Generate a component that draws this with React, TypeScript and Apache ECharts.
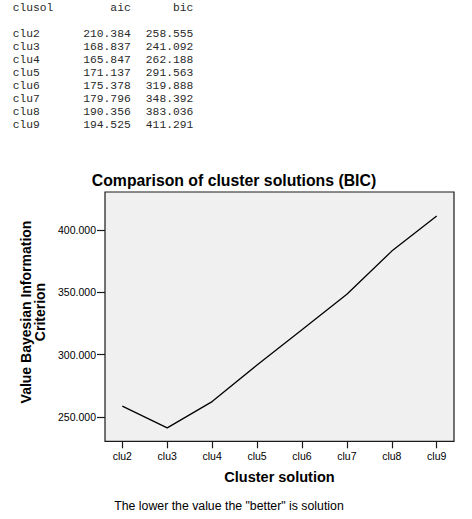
import React, { useEffect, useRef } from "react";
import * as echarts from "echarts";

// Cluster solutions with their information criteria
const clusters = ["clu2", "clu3", "clu4", "clu5", "clu6", "clu7", "clu8", "clu9"];
const aicValues = [210.384, 168.837, 165.847, 171.137, 175.378, 179.796, 190.356, 194.525];
const bicValues = [258.555, 241.092, 262.188, 291.563, 319.888, 348.392, 383.036, 411.291];
const yTickValues = [250, 300, 350, 400];

const MONO = "'Liberation Mono', 'DejaVu Sans Mono', monospace";
const SANS = "'Liberation Sans', Arial, sans-serif";

// plot frame (the shaded box) and inner data area
const BOX = { left: 105, top: 192, right: 454, bottom: 441.3 };
const INSET = 17.3;

export default function App() {
  const ref = useRef<HTMLDivElement>(null);

  useEffect(() => {
    if (!ref.current) return;
    const chart = echarts.init(ref.current, null, { renderer: "svg" });
    const W = 472;
    const H = 519;

    const tableText: any[] = [];
    const rowY0 = 33.7;
    const rowStep = 13.04;
    const cell = (text: string, x: number, y: number, align: string) => ({
      type: "text",
      x,
      y,
      style: {
        text,
        x: 0,
        y: 0,
        fill: "#2a2a2a",
        font: `11.3px ${MONO}`,
        textAlign: align,
        textVerticalAlign: "middle",
      },
    });
    tableText.push(cell("clusol", 12.7, 8.2, "left"));
    tableText.push(cell("aic", 130.7, 8.2, "right"));
    tableText.push(cell("bic", 193.3, 8.2, "right"));
    clusters.forEach((c, i) => {
      const y = rowY0 + i * rowStep;
      tableText.push(cell(c, 12.7, y, "left"));
      tableText.push(cell(aicValues[i].toFixed(3), 130.7, y, "right"));
      tableText.push(cell(bicValues[i].toFixed(3), 193.3, y, "right"));
    });

    chart.setOption({
      animation: false,
      graphic: [
        ...tableText,
        {
          type: "rect",
          z: -1,
          shape: {
            x: BOX.left,
            y: BOX.top,
            width: BOX.right - BOX.left,
            height: BOX.bottom - BOX.top,
          },
          style: { fill: "#f0f0f0", stroke: "#1a1a1a", lineWidth: 1.2 },
        },
        {
          type: "text",
          x: 234,
          y: 180,
          style: {
            text: "Comparison of cluster solutions (BIC)",
            fill: "#000",
            font: `bold 15.8px ${SANS}`,
            textAlign: "center",
            textVerticalAlign: "middle",
          },
        },
        {
          type: "text",
          x: 33,
          y: 312,
          rotation: Math.PI / 2,
          style: {
            text: "Value Bayesian Information\nCriterion",
            fill: "#000",
            font: `bold 14px ${SANS}`,
            lineHeight: 14.7,
            textAlign: "center",
            textVerticalAlign: "middle",
          },
        },
        {
          type: "text",
          x: 229,
          y: 506,
          style: {
            text: 'The lower the value the "better" is solution',
            fill: "#000",
            font: `12.3px ${SANS}`,
            textAlign: "center",
            textVerticalAlign: "middle",
          },
        },
      ],
      grid: {
        left: BOX.left + INSET,
        right: W - BOX.right + INSET,
        top: BOX.top,
        bottom: H - BOX.bottom,
      },
      xAxis: {
        type: "category",
        data: clusters,
        boundaryGap: false,
        name: "Cluster solution",
        nameLocation: "middle",
        nameGap: 28.5,
        nameTextStyle: { fontFamily: SANS, fontWeight: "bold", fontSize: 14.5, color: "#000" },
        axisLine: { show: false },
        axisTick: { show: true, length: 7, lineStyle: { color: "#1a1a1a", width: 1.2 } },
        axisLabel: { fontFamily: SANS, fontSize: 10.5, color: "#000", margin: 9 },
        splitLine: { show: false },
      },
      yAxis: {
        type: "value",
        min: 230.3,
        max: 430.5,
        offset: INSET,
        axisLine: { show: false },
        axisTick: {
          show: true,
          length: 8,
          customValues: yTickValues,
          lineStyle: { color: "#1a1a1a", width: 1.2 },
        },
        axisLabel: {
          fontFamily: SANS,
          fontSize: 10.5,
          color: "#000",
          margin: 9,
          customValues: yTickValues,
          formatter: (v: number) => v.toFixed(3),
        },
        splitLine: { show: false },
      },
      series: [
        {
          type: "line",
          data: bicValues,
          showSymbol: false,
          symbol: "none",
          lineStyle: { color: "#000", width: 1.3 },
          z: 5,
        },
      ],
    });

    return () => chart.dispose();
  }, []);

  return <div ref={ref} style={{ width: 472, height: 519, position: "absolute", left: 0, top: 0, background: "#fff" }} />;
}
